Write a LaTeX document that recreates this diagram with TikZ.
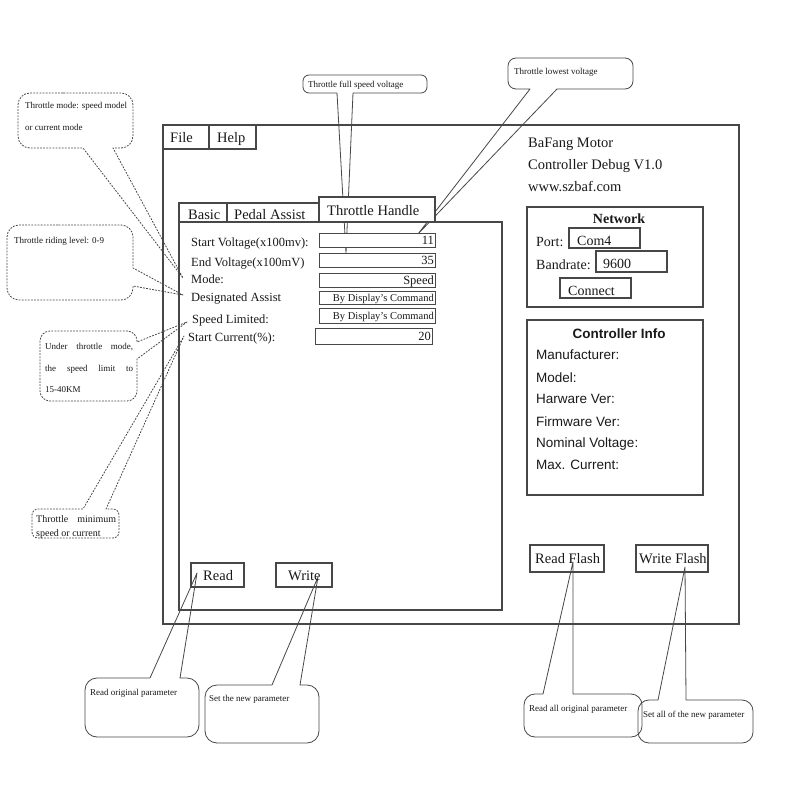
\documentclass[tikz,border=0pt]{standalone}
\usepackage{fontspec}
\setmainfont{Liberation Serif}
\setsansfont{Liberation Sans}
\newcommand\fsLbl{\fontsize{12.5}{15}\selectfont}
\newcommand\fsBig{\fontsize{14.5}{17}\selectfont}
\newcommand\fsNet{\fontsize{14}{17}\selectfont}
\newcommand\fsSmall{\fontsize{9}{11}\selectfont}
\newcommand\fsCmd{\fontsize{10.5}{12}\selectfont}
\tikzset{
  frame/.style={draw=black!72, line width=1.1pt},
  fld/.style={draw=black!72, line width=1pt, fill=white},
  co/.style={draw=black!72, line width=0.8pt, line join=round},
  dco/.style={co, dash pattern=on 1.8pt off 1.3pt},
  txt/.style={anchor=base west, inner sep=0pt, text=black!90},
  rtxt/.style={anchor=base east, inner sep=0pt, text=black!90},
  ctxt/.style={anchor=base, inner sep=0pt, text=black!90},
}
\begin{document}
\begin{tikzpicture}[x=1pt,y=-1pt]
\useasboundingbox (0,0) rectangle (800,810);
\fill[white] (0,0) rectangle (800,810);

% ---------------- callouts (drawn first) ----------------
% 1 Throttle mode
\draw[dco, rounded corners=12pt] (75,93) -- (18,93) -- (18,148) [sharp corners] -- (83,148) -- (183,278) -- (113,148) [rounded corners=12pt] -- (133,148) -- (133,93) -- cycle;
\node[txt, font=\fsSmall] (c1a) at (25,109) {Throttle mode: speed model};
\node[txt, font=\fsSmall] (c1b) at (25,131) {or current mode};
% 2 riding level
\draw[dco, rounded corners=12pt] (70,225) -- (7,225) -- (7,300) -- (133,300) [sharp corners] -- (133,286) -- (183,295) -- (133,268) [rounded corners=12pt] -- (133,225) -- cycle;
\node[txt, font=\fsSmall] (c2) at (14,243) {Throttle riding level: 0-9};
% 3 speed limit
\draw[dco, rounded corners=10pt] (88,331) -- (40,331) -- (40,401) -- (137,401) [sharp corners] -- (137,359) -- (187,322) -- (137,342) [rounded corners=10pt] -- (137,331) -- cycle;
\node[txt, font=\fsSmall] (c3a) at (45,349) {\makebox[88pt][s]{Under throttle mode,}};
\node[txt, font=\fsSmall] (c3b) at (45,371) {\makebox[88pt][s]{the speed limit to}};
\node[txt, font=\fsSmall] (c3c) at (45,392) {15-40KM};
% 4 minimum
\draw[dco, rounded corners=6pt] (75,538) -- (119,538) -- (119,509) [sharp corners] -- (106,509) -- (184,336) -- (83,509) [rounded corners=6pt] -- (32,509) -- (32,538) -- cycle;
\node[txt, font=\fontsize{10}{12}\selectfont] (c4a) at (36,522) {\makebox[80pt][s]{Throttle minimum}};
\node[txt, font=\fontsize{10}{12}\selectfont] (c4b) at (36,536) {speed or current};
% 5 full speed voltage
\draw[co, rounded corners=6pt] (365,75) -- (303,75) -- (303,93) [sharp corners] -- (337,93) -- (346,253) -- (353,93) [rounded corners=6pt] -- (427,93) -- (427,75) -- cycle;
\node[txt, font=\fsSmall] (c5) at (308,88) {Throttle full speed voltage};
% 6 lowest voltage
\draw[co, rounded corners=8pt] (570,58) -- (508,58) -- (508,89) [sharp corners] -- (530,89) -- (418,234) -- (557,89) [rounded corners=8pt] -- (633,89) -- (633,58) -- cycle;
\node[txt, font=\fsSmall] (c6) at (514,75) {Throttle lowest voltage};
% 7 read
\draw[co, rounded corners=12pt] (140,737) -- (199,737) -- (199,678) [sharp corners] -- (180,678) -- (197,573) -- (150,678) [rounded corners=12pt] -- (85,678) -- (85,737) -- cycle;
\node[txt, font=\fsSmall] (c7) at (90,695) {Read original parameter};
% 8 write
\draw[co, rounded corners=12pt] (260,743) -- (319,743) -- (319,685) [sharp corners] -- (300,685) -- (318,577) -- (272,685) [rounded corners=12pt] -- (205,685) -- (205,743) -- cycle;
\node[txt, font=\fsSmall] (c8) at (209,701) {Set the new parameter};
% 9 read flash
\draw[co, rounded corners=11pt] (585,737) -- (642,737) -- (642,694) [sharp corners] -- (573,694) -- (573,562) -- (543,694) [rounded corners=11pt] -- (524,694) -- (524,737) -- cycle;
\node[txt, font=\fsSmall] (c9) at (529,711) {Read all original parameter};
% 10 write flash
\draw[co, rounded corners=11pt] (700,743) -- (753,743) -- (753,700) [sharp corners] -- (686,700) -- (685,567) -- (658,700) [rounded corners=11pt] -- (638,700) -- (638,743) -- cycle;
\node[txt, font=\fsSmall] (c10) at (643,717) {Set all of the new parameter};

% ---------------- main window ----------------
\draw[frame] (163,125) rectangle (739,624);
\draw[frame] (163,149) -- (256,149) -- (256,125);
\draw[frame] (209,125) -- (209,149);
\node[txt, font=\fsBig] (file) at (170,143) {File};
\node[txt, font=\fsBig] (help) at (217,143) {Help};

\node[txt, font=\fsBig] (t1) at (528,148) {BaFang Motor};
\node[txt, font=\fsBig] (t2) at (528,170) {Controller Debug V1.0};
\node[txt, font=\fsBig] (t3) at (528,192) {www.szbaf.com};

% tab panel
\draw[frame] (179,222) rectangle (502,610);
\draw[frame] (179,222) -- (179,203) -- (319,203);
\draw[frame] (227,203) -- (227,222);
\draw[frame, fill=white] (319,197) rectangle (435,222);
\node[txt, font=\fsBig] (tb1) at (188,220) {Basic};
\node[txt, font=\fsBig] (tb2) at (234,220) {Pedal Assist};
\node[txt, font=\fsBig] (tb3) at (327,215) {Throttle Handle};

% labels
\node[txt, font=\fsLbl] (l1) at (191,246) {Start Voltage(x100mv):};
\node[txt, font=\fsLbl] (l2) at (191,266) {End Voltage(x100mV)};
\node[txt, font=\fsLbl] (l3) at (191,283) {Mode:};
\node[txt, font=\fsLbl] (l4) at (191,301) {Designated Assist};
\node[txt, font=\fsLbl] (l5) at (192,323) {Speed Limited:};
\node[txt, font=\fsLbl] (l6) at (188,341) {Start Current(\%):};

% fields
\draw[fld] (319,233) rectangle (435,247);
\draw[fld] (319,253) rectangle (435,267);
\draw[fld] (319,273) rectangle (435,287);
\draw[fld] (319,291) rectangle (435,304);
\draw[fld] (319,308) rectangle (435,323);
\draw[fld] (315,328) rectangle (432,344);
\node[rtxt, font=\fsLbl] (v1) at (434,244.5) {11};
\node[rtxt, font=\fsLbl] (v2) at (434,264.5) {35};
\node[rtxt, font=\fsLbl] (v3) at (434,284.5) {Speed};
\node[rtxt, font=\fsCmd] (v4) at (434,301.5) {By Display’s Command};
\node[rtxt, font=\fsCmd] (v5) at (434,319) {By Display’s Command};
\node[rtxt, font=\fsLbl] (v6) at (431,340.5) {20};

% buttons
\draw[frame] (191,563) rectangle (244,587);
\draw[frame] (276,563) rectangle (332,587);
\node[txt, font=\fsBig] (bread) at (203,580) {Read};
\node[txt, font=\fsBig] (bwrite) at (288,580) {Write};
\draw[frame] (530,545) rectangle (604,572);
\draw[frame] (636,545) rectangle (708,572);
\node[txt, font=\fsBig] (brf) at (535,563) {Read Flash};
\node[txt, font=\fsBig] (bwf) at (639,563) {Write Flash};

% network
\draw[frame] (527,207) rectangle (703,307);
\node[ctxt, font=\fsNet\bfseries] (net) at (619,224) {Network};
\node[txt, font=\fsNet] (port) at (536,246) {Port:};
\draw[frame] (569,228) rectangle (640,248);
\node[txt, font=\fsNet] (com) at (577,245) {Com4};
\node[txt, font=\fsNet] (baud) at (536,269) {Bandrate:};
\draw[frame] (596,251) rectangle (667,272);
\node[txt, font=\fsNet] (b96) at (603,268) {9600};
\draw[frame] (560,278) rectangle (631,298);
\node[txt, font=\fsNet] (conn) at (568,295) {Connect};

% controller info
\draw[frame] (527,320) rectangle (703,495);
\node[ctxt, font=\sffamily\bfseries\fontsize{13.5}{16}\selectfont] (ci) at (619,338) {Controller Info};
\node[txt, font=\sffamily\fontsize{13.5}{16}\selectfont] (i1) at (536,359.5) {Manufacturer:};
\node[txt, font=\sffamily\fontsize{13.5}{16}\selectfont] (i2) at (536,382.5) {Model:};
\node[txt, font=\sffamily\fontsize{13.5}{16}\selectfont] (i3) at (536,403.5) {Harware Ver:};
\node[txt, font=\sffamily\fontsize{13.5}{16}\selectfont] (i4) at (536,426.5) {Firmware Ver:};
\node[txt, font=\sffamily\fontsize{13.5}{16}\selectfont] (i5) at (536,447.5) {Nominal Voltage:};
\node[txt, font=\sffamily\fontsize{13.5}{16}\selectfont] (i6) at (536,469.5) {Max. Current:};
\end{tikzpicture}
\end{document}
